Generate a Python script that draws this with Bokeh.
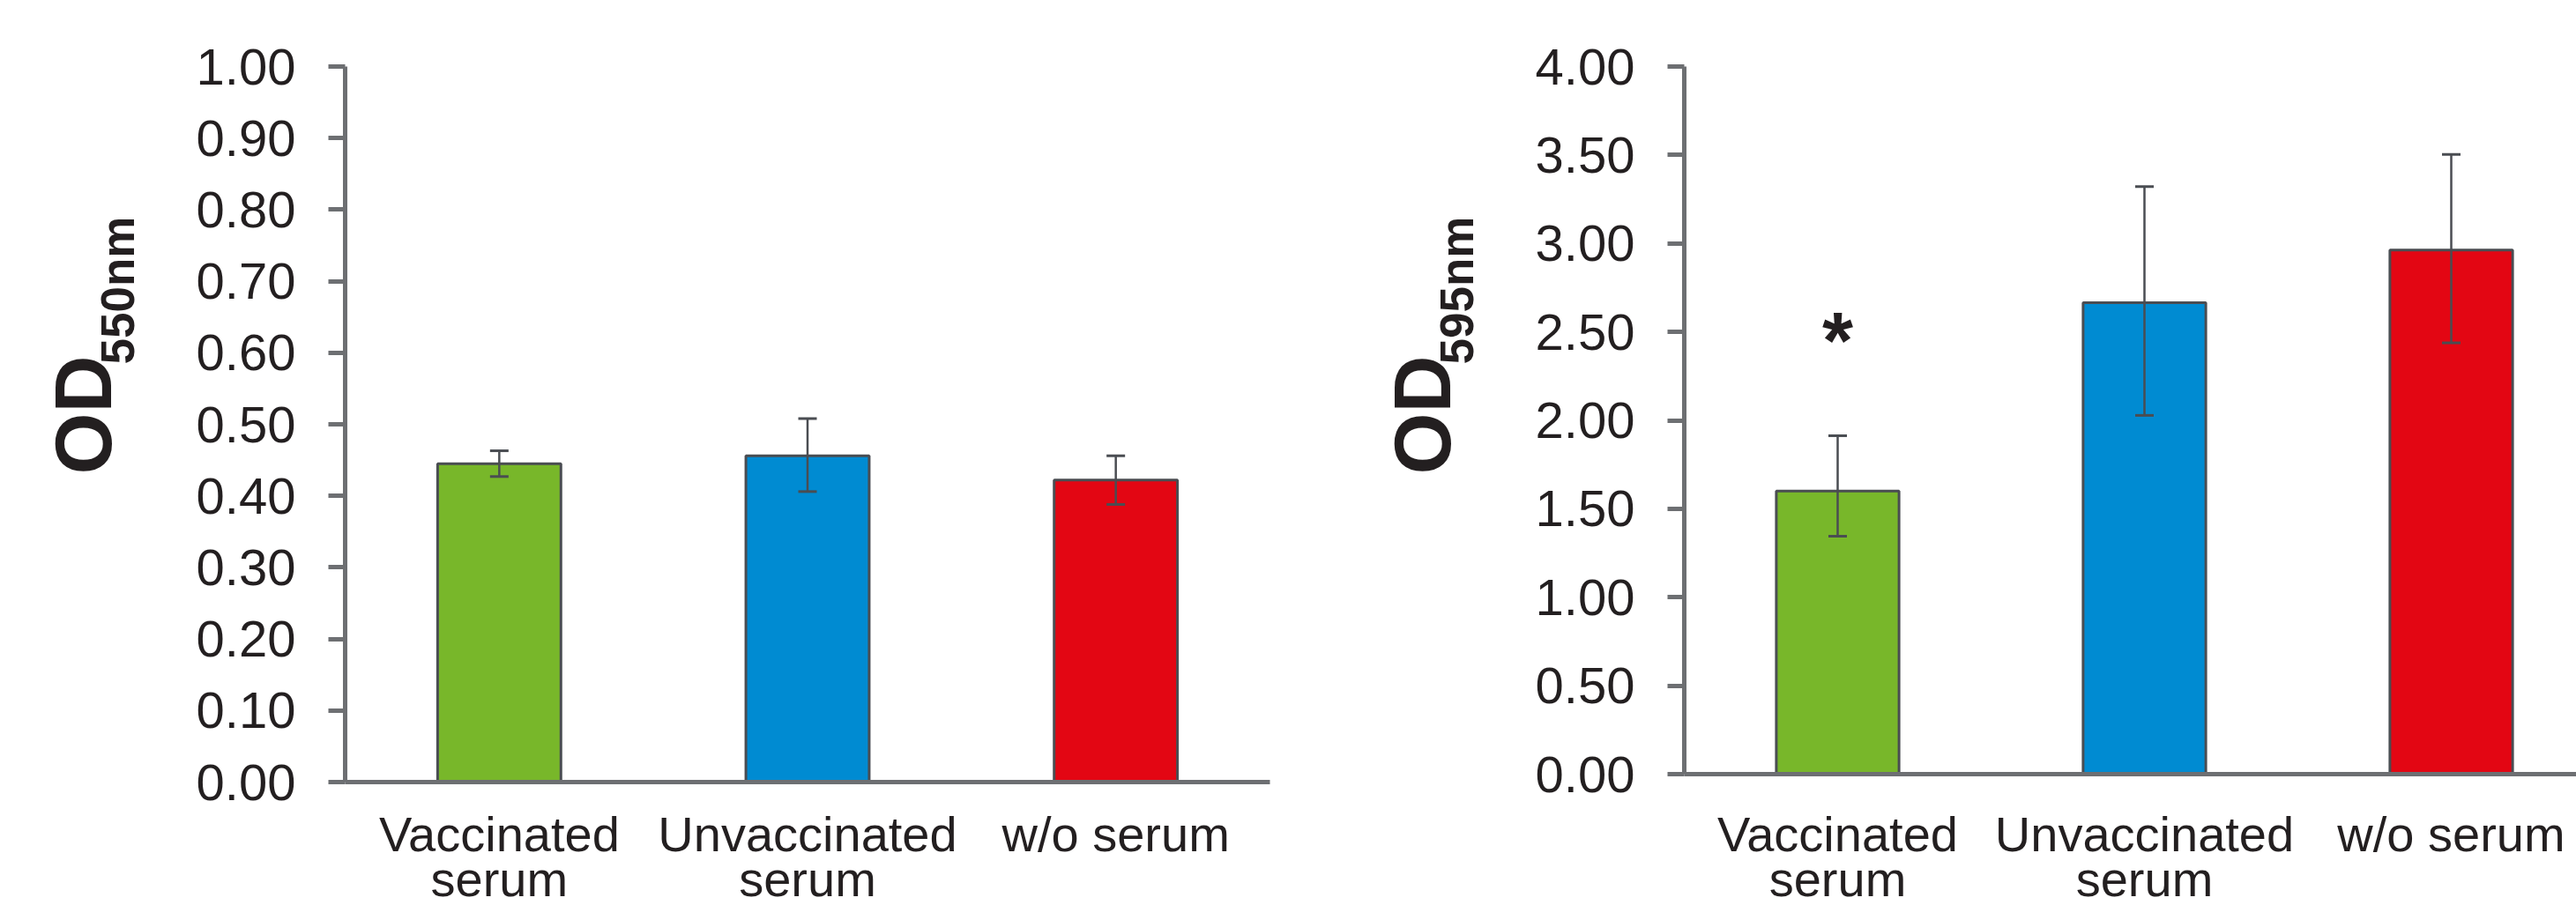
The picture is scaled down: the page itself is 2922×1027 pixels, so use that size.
import math
from bokeh.plotting import figure
from bokeh.layouts import row
from bokeh.models import (ColumnDataSource, Whisker, TeeHead, Label, LabelSet,
                          FixedTicker, Range1d, NumeralTickFormatter)
from bokeh.core.properties import value
from bokeh.embed import file_html
from bokeh.resources import INLINE

# ---------------- data ----------------
categories = ["Vaccinated\nserum", "Unvaccinated\nserum", "w/o serum"]
bar_colors = ["#78b72a", "#008bd2", "#e30613"]

od550_mean = [0.445, 0.456, 0.422]
od550_low = [0.427, 0.406, 0.388]
od550_high = [0.463, 0.508, 0.456]
od550_marks = ["", "", ""]
od550_ticks = [0.00, 0.10, 0.20, 0.30, 0.40, 0.50, 0.60, 0.70, 0.80, 0.90, 1.00]

od595_mean = [1.600, 2.665, 2.963]
od595_low = [1.345, 2.028, 2.438]
od595_high = [1.913, 3.321, 3.503]
od595_marks = ["*", "", ""]
od595_ticks = [0.00, 0.50, 1.00, 1.50, 2.00, 2.50, 3.00, 3.50, 4.00]

# ---------------- style / layout (pixels) ----------------
AXIS_COL = "#6d6f72"
EDGE_COL = "#4a4d52"
TEXT_COL = "#231f20"
FONT = "Liberation Sans"
W, H = 1461, 1027
TOP_PX = 75          # y of top tick
LABEL_BASE = 965     # baseline of first category line (page y)
LINE_GAP = 51


def make_panel(mean, low, high, marks, ticks, sub, axis_px, cat_px, zero_px):
    n = len(categories)
    xs = [i + 0.5 for i in range(n)]
    line1 = [c.split("\n")[0] for c in categories]
    line2 = [c.split("\n")[1] if "\n" in c else "" for c in categories]
    src = ColumnDataSource(dict(x=xs, mean=mean, low=low, high=high,
                                color=bar_colors, mark=marks,
                                l1=line1, l2=line2))

    ymax = ticks[-1]
    ppu = (zero_px - TOP_PX) / ymax           # pixels per unit
    y_start = -(H - zero_px) / ppu
    y_end = ymax + TOP_PX / ppu
    x_start = -axis_px / cat_px
    x_end = (W - axis_px) / cat_px

    p = figure(width=W, height=H, output_backend="svg",
               toolbar_location=None, tools="",
               x_range=Range1d(x_start, x_end), y_range=Range1d(y_start, y_end),
               min_border=0)
    p.title.visible = False
    p.outline_line_color = None
    p.background_fill_color = "white"
    p.border_fill_color = "white"
    p.grid.visible = False

    p.vbar(x="x", top="mean", bottom=0, width=0.4, source=src,
           fill_color="color", line_color=EDGE_COL, line_width=3)

    p.add_layout(Whisker(source=src, base="x", lower="low", upper="high",
                         line_color=EDGE_COL, line_width=2.5, level="overlay",
                         upper_head=TeeHead(size=21, line_color=EDGE_COL, line_width=3),
                         lower_head=TeeHead(size=21, line_color=EDGE_COL, line_width=3)))

    p.add_layout(LabelSet(x="x", y="high", text="mark", source=src,
                          y_offset=76, text_align="center",
                          text_baseline="alphabetic", text_font=value(FONT),
                          text_font_style="bold", text_font_size="90px",
                          text_color=TEXT_COL))

    # y axis (drawn at x = 0)
    ya = p.yaxis[0]
    ya.fixed_location = 0
    ya.bounds = (0, ymax)
    ya.ticker = FixedTicker(ticks=ticks)
    ya.formatter = NumeralTickFormatter(format="0.00")
    ya.axis_line_color = AXIS_COL
    ya.axis_line_width = 5
    ya.major_tick_line_color = AXIS_COL
    ya.major_tick_line_width = 5
    ya.major_tick_out = 19
    ya.major_tick_in = 0
    ya.minor_tick_line_color = None
    ya.major_label_standoff = 37
    ya.major_label_text_font = FONT
    ya.major_label_text_font_size = "58px"
    ya.major_label_text_color = TEXT_COL

    # x axis (drawn at y = 0)
    xa = p.xaxis[0]
    xa.fixed_location = 0
    xa.bounds = (0, n)
    xa.ticker = FixedTicker(ticks=[])
    xa.axis_line_color = AXIS_COL
    xa.axis_line_width = 5
    xa.major_tick_line_color = None
    xa.minor_tick_line_color = None

    for txt_col, base in (("l1", LABEL_BASE), ("l2", LABEL_BASE + LINE_GAP)):
        p.add_layout(LabelSet(x="x", y=H - base, y_units="screen", text=txt_col,
                              source=src, text_align="center",
                              text_baseline="alphabetic", text_font=value(FONT),
                              text_font_size="56px", text_color=TEXT_COL))

    p.add_layout(Label(x=axis_px - 297, y=H - 538, x_units="screen", y_units="screen",
                       text="OD", angle=math.pi / 2, text_align="left",
                       text_baseline="alphabetic", text_font=FONT,
                       text_font_style="bold", text_font_size="90px",
                       text_color=TEXT_COL))
    p.add_layout(Label(x=axis_px - 258, y=H - 413, x_units="screen", y_units="screen",
                       text=sub, angle=math.pi / 2, text_align="left",
                       text_baseline="alphabetic", text_font=FONT,
                       text_font_style="bold", text_font_size="53px",
                       text_color=TEXT_COL))
    return p


p1 = make_panel(od550_mean, od550_low, od550_high, od550_marks, od550_ticks,
                "550nm", axis_px=391, cat_px=349.67, zero_px=887)
p2 = make_panel(od595_mean, od595_low, od595_high, od595_marks, od595_ticks,
                "595nm", axis_px=449, cat_px=348.0, zero_px=878)

layout = row(p1, p2)
open("out.html", "w").write(file_html(layout, INLINE))
